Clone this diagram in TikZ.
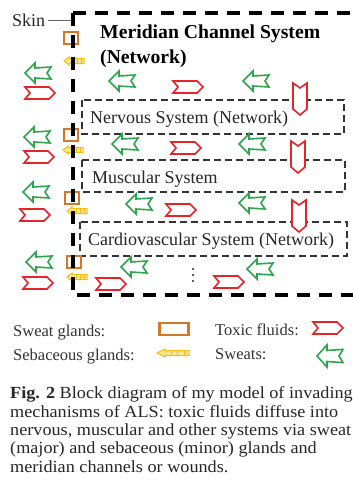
\documentclass[tikz,border=0pt]{standalone}
\usepackage{fontspec}
\setmainfont{Liberation Serif}
\definecolor{swgreen}{HTML}{2EA44F}
\definecolor{toxred}{HTML}{E5232B}
\definecolor{glorange}{HTML}{D2782A}
\definecolor{sebyellow}{HTML}{F2BE1A}
\definecolor{sebfill}{HTML}{FDE68A}
\tikzset{
  sweatpic/.pic={\draw[swgreen, line width=1.6pt, fill=white, line join=miter]
     (-13,0) -- (-3,-10) -- (-3,-5) -- (13,-6) -- (9,0) -- (13,6) -- (-3,5) -- (-3,10) -- cycle;},
  toxpic/.pic={\draw[toxred, line width=1.6pt, fill=white, line join=miter]
     (-15,-6) -- (9,-6) -- (15,0) -- (9,6) -- (-15,6) -- (-10,0) -- cycle;},
  toxdownpic/.pic={\draw[toxred, line width=1.6pt, fill=white, line join=miter]
     (-7,-16) -- (0,-11) -- (7,-16) -- (7,10) -- (0,16) -- (-7,10) -- cycle;},
  glandpic/.pic={\draw[glorange, line width=2.8pt] (-7,-6) rectangle (7,6);},
  sebpic/.pic={\draw[sebyellow, line width=1pt, fill=sebfill]
     (-10,0) -- (-5,-4) -- (-5,-2.5) -- (10,-2.5) -- (10,2.5) -- (-5,2.5) -- (-5,4) -- cycle;
     \foreach \xx in {-1,3,7} \draw[sebyellow, line width=1pt] (\xx,-2.5) -- (\xx,2.5);},
  outerline/.style={line width=3.6pt, dash pattern=on 13pt off 9pt, black},
  innerbox/.style={line width=1.8pt, dash pattern=on 7pt off 4pt, black!80},
  lab/.style={inner sep=0pt, anchor=base west, font=\fontsize{18}{21}\selectfont, text=black!85},
  leg/.style={inner sep=0pt, anchor=base west, font=\fontsize{16.5}{19}\selectfont, text=black!80},
  captext/.style={inner sep=0pt, anchor=base west, xscale=1.07, font=\fontsize{17}{19}\selectfont, text=black!85},
}
\begin{document}
\begin{tikzpicture}[x=1pt,y=-1pt]
\useasboundingbox (0,0) rectangle (353,493);
\fill[white] (0,0) rectangle (353,493);

% inner boxes
\draw[innerbox] (82,100) rectangle (344,134);
\draw[innerbox] (82,160) rectangle (345,192);
\draw[innerbox] (80,222) rectangle (347,256);

% texts
\node[lab] (skin) at (12,26) {Skin};
\coordinate (skinend) at (71,20);
\draw[black!60, line width=0.8pt] (skin.east |- 0,20) ++(3,0) coordinate (skinstart) -- (skinend);
\node[lab, font=\fontsize{19.7}{23}\selectfont\bfseries, text=black] (title1) at (100,38) {Meridian Channel System};
\node[lab, font=\fontsize{19.7}{23}\selectfont\bfseries, text=black] (title2) at (100,63) {(Network)};
\node[lab] (nerv) at (90,123) {Nervous System (Network)};
\node[lab] (musc) at (92,183) {Muscular System};
\node[lab] (card) at (88,245) {Cardiovascular System (Network)};

% outside arrows
\pic at (38,73) {sweatpic};
\pic at (40,93) {toxpic};
\pic at (37,137) {sweatpic};
\pic at (39,157) {toxpic};
\pic at (36,192) {sweatpic};
\pic at (35,215) {toxpic};
\pic at (39,262) {sweatpic};
\pic at (38,283) {toxpic};

% inner arrows
\pic at (122,81) {sweatpic};
\pic at (188,87) {toxpic};
\pic at (256,81) {sweatpic};
\pic at (300,99) {toxdownpic};
\pic at (125,144) {sweatpic};
\pic at (186,148) {toxpic};
\pic at (252,144) {sweatpic};
\pic at (298,157) {toxdownpic};
\pic at (139,204) {sweatpic};
\pic at (181,210) {toxpic};
\pic at (252,203) {sweatpic};
\pic at (299,216) {toxdownpic};
\pic at (111,284) {toxpic};
\pic at (134,267) {sweatpic};
\pic at (229,282) {toxpic};
\pic at (260,269) {sweatpic};
\foreach \yy in {269,275,281} \fill[black!85] (193,\yy) circle (1.1pt);

% glands
\pic at (71,38) {glandpic};
\pic at (74,61) {sebpic};
\pic at (71,135) {glandpic};
\pic at (73,150) {sebpic};
\pic at (72,198) {glandpic};
\pic at (77,211) {sebpic};
\pic at (74,262) {glandpic};
\pic at (77,277) {sebpic};

% skin / outer line
\draw[outerline] (73,13) -- (353,13);
\draw[outerline] (73,13) -- (73,295) -- (353,295);

% legend
\node[leg] (lsg) at (13,336) {Sweat glands:};
\node[leg] (lseb) at (13,360) {Sebaceous glands:};
\node[leg] (ltox) at (215,335) {Toxic fluids:};
\node[leg] (lsw) at (215,359) {Sweats:};
\pic[xscale=2.1,yscale=1] at (174,329) {glandpic};
\pic[xscale=1.6] at (173,353) {sebpic};
\pic at (328,328) {toxpic};
\pic[yscale=1.1] at (330,356) {sweatpic};

% caption
\node[captext] (c1) at (10,398) {\textbf{Fig. 2} Block diagram of my model of invading};
\node[captext] (c2) at (10,417) {mechanisms of ALS: toxic fluids diffuse into};
\node[captext] (c3) at (10,435) {nervous, muscular and other systems via sweat};
\node[captext] (c4) at (10,453) {(major) and sebaceous (minor) glands and};
\node[captext] (c5) at (10,472) {meridian channels or wounds.};
\end{tikzpicture}
\end{document}
